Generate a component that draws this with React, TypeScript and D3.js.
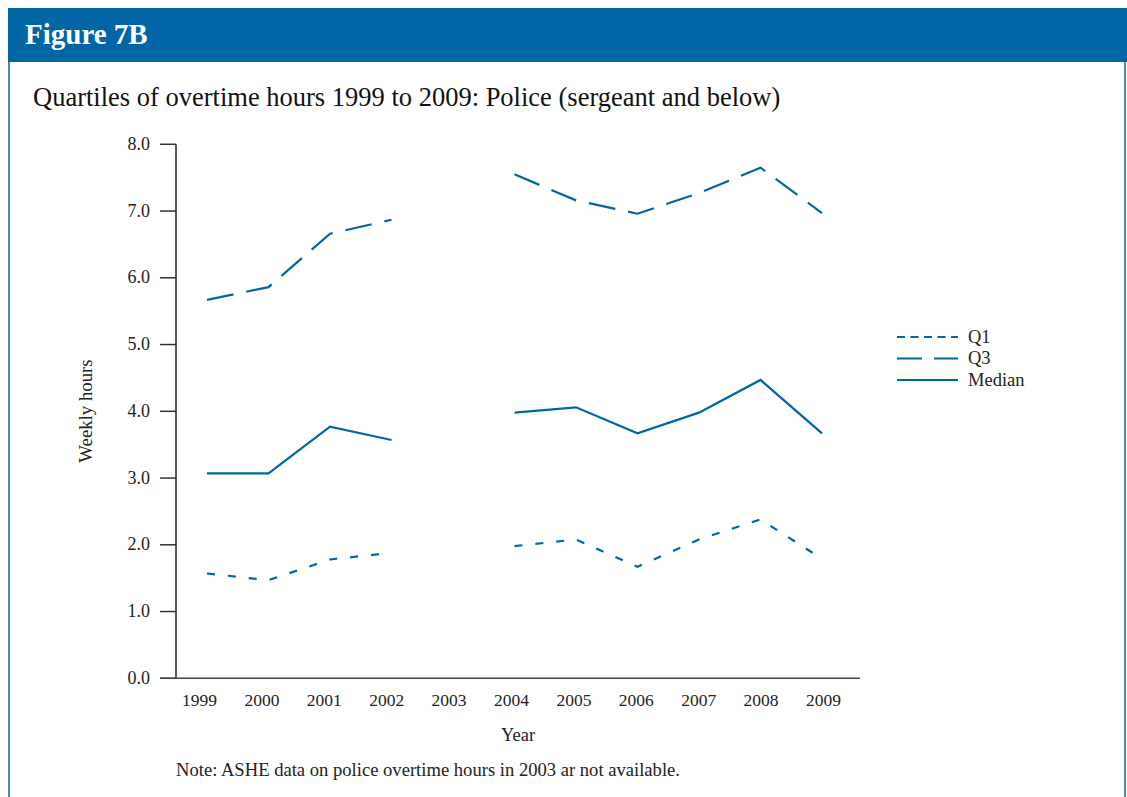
import React from "react";
import * as d3 from "d3";

const years = [1999, 2000, 2001, 2002, 2003, 2004, 2005, 2006, 2007, 2008, 2009];
const q1: (number | null)[] = [1.57, 1.47, 1.78, 1.88, null, 1.98, 2.08, 1.67, 2.08, 2.38, 1.79];
const q3: (number | null)[] = [5.67, 5.86, 6.66, 6.87, null, 7.55, 7.16, 6.96, 7.27, 7.65, 6.97];
const median: (number | null)[] = [3.07, 3.07, 3.77, 3.57, null, 3.98, 4.06, 3.67, 3.98, 4.47, 3.67];
const yTicks = [0, 1, 2, 3, 4, 5, 6, 7, 8];
const seriesNames = ["Q1", "Q3", "Median"];

const BLUE = "#0066a6";
const FONT = "'Liberation Serif', 'Times New Roman', serif";

export default function App() {
  const W = 1127, H = 797;
  const y = d3.scaleLinear().domain([0, 8]).range([678.3, 144.3]);
  const xData = d3.scalePoint<number>().domain(years).range([207, 822]);
  const xLab = d3.scalePoint<number>().domain(years).range([199.5, 823.5]);

  const line = d3
    .line<number | null>()
    .defined((d) => d !== null)
    .x((_, i) => xData(years[i]) as number)
    .y((d) => y(d as number));

  const series = [
    { name: seriesNames[0], data: q1, dash: "8,13", legendDash: "8,5.5" },
    { name: seriesNames[1], data: q3, dash: "27,13", legendDash: "25,12" },
    { name: seriesNames[2], data: median, dash: "none", legendDash: "none" },
  ];

  return (
    <svg
      width={W}
      height={H}
      style={{ position: "absolute", left: 0, top: 0, background: "#fff" }}
      fontFamily={FONT}
    >
      {/* frame */}
      <rect x={9} y={60} width={1116} height={H} fill="none" stroke="#3d8cc4" strokeWidth={2} />
      <rect x={8} y={8} width={1119} height={54} fill={BLUE} />
      <text x={25} y={43.5} fill="#fff" fontWeight="bold" fontSize={29}>
        Figure 7B
      </text>
      <text x={33} y={106} fill="#111" fontSize={26.5}>
        Quartiles of overtime hours 1999 to 2009: Police (sergeant and below)
      </text>

      {/* y axis */}
      <line x1={176} x2={176} y1={y(8)} y2={y(0)} stroke="#222" strokeWidth={1.5} />
      {yTicks.map((t) => (
        <g key={t}>
          <line x1={160} x2={176} y1={y(t)} y2={y(t)} stroke="#333" strokeWidth={1.5} />
          <text x={150} y={y(t) + 5.5} textAnchor="end" fontSize={18} fill="#222">
            {t.toFixed(1)}
          </text>
        </g>
      ))}
      <text
        transform={`translate(92,411) rotate(-90)`}
        textAnchor="middle"
        fontSize={18.8}
        fill="#222"
      >
        Weekly hours
      </text>

      {/* x axis */}
      <line x1={160} x2={860} y1={y(0)} y2={y(0)} stroke="#444" strokeWidth={1.5} />
      {years.map((yr) => (
        <text key={yr} x={xLab(yr)} y={705.5} textAnchor="middle" fontSize={17.5} fill="#222">
          {yr}
        </text>
      ))}
      <text x={518} y={741} textAnchor="middle" fontSize={18.5} fill="#222">
        Year
      </text>

      {/* series */}
      {series.map((s) => (
        <path
          key={s.name}
          d={line(s.data) || ""}
          fill="none"
          stroke={BLUE}
          strokeWidth={2.2}
          strokeDasharray={s.dash}
        />
      ))}

      {/* legend */}
      {series.map((s, i) => (
        <g key={s.name} transform={`translate(0,${337 + i * 21.5})`}>
          <line x1={897} x2={958} y1={0} y2={0} stroke={BLUE} strokeWidth={2.2} strokeDasharray={s.legendDash} />
          <text x={968} y={5.5} fontSize={18.5} fill="#222">
            {s.name}
          </text>
        </g>
      ))}

      <text x={176} y={776} fontSize={18.6} fill="#222">
        Note: ASHE data on police overtime hours in 2003 ar not available.
      </text>
    </svg>
  );
}
